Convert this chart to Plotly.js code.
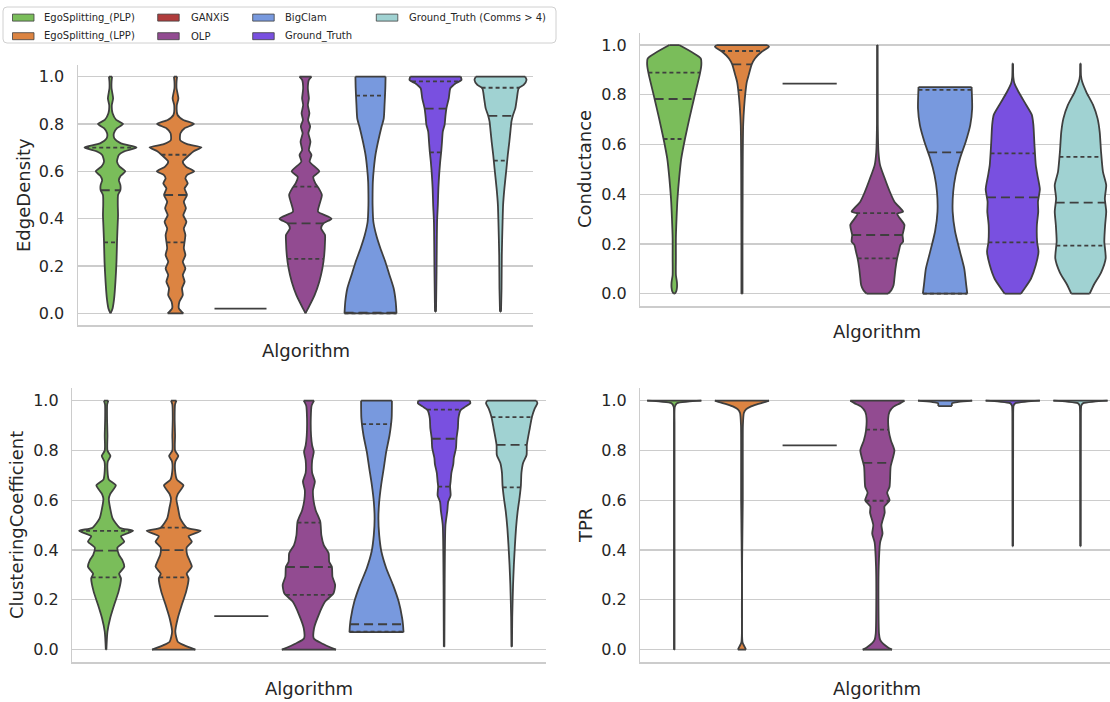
<!DOCTYPE html>
<html><head><meta charset="utf-8">
<script src="https://cdn.plot.ly/plotly-3.0.1.min.js"></script>
<style>html,body{margin:0;padding:0;background:#fff}#chart{width:1110px;height:702px}</style>
</head><body><div id="chart"></div>
<script>
// ---------------- DATA ----------------
const algorithms = ["EgoSplitting_(PLP)", "EgoSplitting_(LPP)", "GANXiS", "OLP", "BigClam", "Ground_Truth", "Ground_Truth (Comms > 4)"];
const metrics = ["EdgeDensity", "Conductance", "ClusteringCoefficient", "TPR"];
const xAxisLabel = "Algorithm";
const yTickValues = [0, 0.2, 0.4, 0.6, 0.8, 1.0];
const yTickLabels = ["0.0", "0.2", "0.4", "0.6", "0.8", "1.0"];

// GANXiS: a single value per metric
const ganxisValues = [0.02, 0.845, 0.135, 0.82];

// density profiles: [value, relative density width (1 = widest)]
const edPLP = [[0,0],[0.021,0.08],[0.063,0.14],[0.134,0.19],[0.218,0.23],[0.303,0.25],[0.387,0.28],[0.415,0.29],[0.458,0.28],[0.5,0.29],[0.521,0.38],[0.542,0.38],[0.563,0.32],[0.582,0.4],[0.6,0.57],[0.62,0.35],[0.641,0.25],[0.669,0.32],[0.683,0.5],[0.701,1.0],[0.718,0.4],[0.739,0.15],[0.761,0.13],[0.782,0.25],[0.8,0.48],[0.817,0.22],[0.845,0.08],[0.88,0.05],[0.908,0.1],[0.951,0.04],[0.979,0.04],[1.0,0.06]];
const edLPP = [[0,0.3],[0.021,0.13],[0.049,0.15],[0.077,0.28],[0.106,0.25],[0.134,0.35],[0.162,0.28],[0.19,0.38],[0.218,0.28],[0.246,0.38],[0.275,0.32],[0.303,0.35],[0.331,0.38],[0.359,0.32],[0.387,0.42],[0.415,0.3],[0.444,0.4],[0.472,0.32],[0.5,0.44],[0.528,0.35],[0.549,0.47],[0.57,0.38],[0.585,0.45],[0.6,0.72],[0.62,0.4],[0.641,0.28],[0.669,0.53],[0.685,0.7],[0.701,1.0],[0.715,0.45],[0.732,0.18],[0.761,0.19],[0.782,0.35],[0.8,0.71],[0.817,0.3],[0.838,0.08],[0.88,0.05],[0.908,0.11],[0.951,0.04],[0.979,0.04],[1.0,0.06]];
const edOLP = [[0,0],[0.021,0.1],[0.077,0.35],[0.134,0.53],[0.19,0.65],[0.246,0.72],[0.303,0.75],[0.331,0.75],[0.359,0.6],[0.38,0.69],[0.4,1.0],[0.43,0.48],[0.458,0.53],[0.5,0.63],[0.53,0.5],[0.549,0.38],[0.577,0.3],[0.6,0.53],[0.641,0.16],[0.669,0.23],[0.69,0.13],[0.725,0.19],[0.761,0.11],[0.789,0.18],[0.817,0.1],[0.845,0.15],[0.88,0.09],[0.908,0.13],[0.951,0.09],[0.986,0.13],[1.0,0.23]];
const edBigClam = [[0,1.0],[0.049,0.97],[0.106,0.89],[0.162,0.73],[0.218,0.57],[0.275,0.38],[0.331,0.22],[0.387,0.11],[0.458,0.08],[0.5,0.08],[0.556,0.09],[0.613,0.13],[0.669,0.19],[0.725,0.29],[0.782,0.41],[0.824,0.51],[0.88,0.54],[0.951,0.57],[1.0,0.58]];
const edGT = [[0.007,0.02],[0.176,0.04],[0.303,0.05],[0.387,0.06],[0.458,0.09],[0.528,0.11],[0.585,0.14],[0.641,0.18],[0.683,0.22],[0.725,0.25],[0.768,0.28],[0.796,0.35],[0.831,0.38],[0.866,0.42],[0.908,0.51],[0.951,0.57],[0.965,0.7],[0.972,0.78],[0.986,1.0],[1.0,0.97]];
const edGT4 = [[0.007,0.02],[0.106,0.04],[0.246,0.05],[0.387,0.08],[0.458,0.1],[0.528,0.15],[0.613,0.23],[0.669,0.28],[0.725,0.34],[0.768,0.38],[0.81,0.42],[0.834,0.47],[0.866,0.57],[0.908,0.63],[0.951,0.7],[0.965,0.89],[0.986,1.0],[1.0,0.95]];

const condPLP = [[0,0.02],[0.008,0.07],[0.024,0.1],[0.045,0.1],[0.075,0.06],[0.142,0.06],[0.224,0.06],[0.303,0.085],[0.383,0.12],[0.464,0.18],[0.544,0.26],[0.625,0.4],[0.705,0.56],[0.785,0.73],[0.886,0.95],[0.92,1.0],[0.946,0.98],[1.0,0.18]];
const condLPP = [[0,0.02],[0.2,0.02],[0.4,0.025],[0.55,0.03],[0.68,0.045],[0.75,0.08],[0.812,0.13],[0.852,0.18],[0.88,0.25],[0.922,0.36],[0.946,0.48],[0.973,0.73],[0.993,1.0],[1.0,0.93]];
const condOLP = [[0,0.4],[0.015,0.52],[0.035,0.6],[0.062,0.63],[0.102,0.67],[0.142,0.73],[0.169,0.79],[0.196,0.85],[0.209,0.95],[0.236,0.93],[0.276,1.0],[0.303,0.83],[0.322,0.73],[0.33,0.95],[0.34,0.88],[0.37,0.63],[0.41,0.46],[0.464,0.27],[0.517,0.1],[0.57,0.04],[0.68,0.015],[1.0,0.01]];
const condBigClam = [[0,0.82],[0.035,0.78],[0.1,0.71],[0.169,0.55],[0.25,0.37],[0.33,0.28],[0.41,0.3],[0.477,0.39],[0.544,0.55],[0.61,0.76],[0.678,0.93],[0.745,1.0],[0.831,0.98]];
const condGT = [[0,0.3],[0.02,0.43],[0.06,0.67],[0.115,0.85],[0.17,0.95],[0.206,0.9],[0.276,0.89],[0.33,0.94],[0.37,0.93],[0.42,1.0],[0.477,0.91],[0.517,0.85],[0.6,0.8],[0.68,0.76],[0.72,0.7],[0.76,0.49],[0.81,0.22],[0.846,0.06],[0.87,0.02],[0.926,0.01]];
const condGT4 = [[0,0.34],[0.035,0.49],[0.085,0.76],[0.142,0.93],[0.21,0.88],[0.276,0.91],[0.33,0.95],[0.383,0.9],[0.437,0.95],[0.49,0.83],[0.57,0.76],[0.65,0.71],[0.705,0.63],[0.76,0.46],[0.81,0.22],[0.853,0.06],[0.875,0.02],[0.926,0.01]];

const ccPLP = [[0,0.01],[0.072,0.05],[0.126,0.15],[0.18,0.3],[0.233,0.46],[0.286,0.55],[0.305,0.48],[0.333,0.67],[0.36,0.6],[0.38,0.48],[0.41,0.42],[0.434,0.67],[0.455,0.55],[0.477,1.0],[0.49,0.5],[0.527,0.24],[0.568,0.15],[0.605,0.1],[0.625,0.15],[0.66,0.36],[0.683,0.1],[0.72,0.05],[0.755,0.06],[0.778,0.16],[0.8,0.05],[0.86,0.05],[0.93,0.035],[0.985,0.04],[1.0,0.08]];
const ccLPP = [[0,0.8],[0.019,0.36],[0.032,0.15],[0.072,0.06],[0.126,0.15],[0.18,0.3],[0.233,0.46],[0.286,0.55],[0.305,0.48],[0.333,0.67],[0.36,0.58],[0.38,0.5],[0.41,0.48],[0.434,0.67],[0.455,0.55],[0.477,1.0],[0.49,0.48],[0.527,0.24],[0.568,0.16],[0.605,0.1],[0.625,0.15],[0.66,0.36],[0.683,0.12],[0.72,0.05],[0.755,0.06],[0.778,0.17],[0.8,0.05],[0.86,0.05],[0.93,0.035],[0.985,0.05],[1.0,0.1]];
const ccOLP = [[0,1.0],[0.025,0.48],[0.045,0.18],[0.086,0.19],[0.139,0.36],[0.193,0.6],[0.226,0.91],[0.26,0.97],[0.293,0.87],[0.333,0.85],[0.353,0.75],[0.387,0.73],[0.42,0.55],[0.46,0.46],[0.514,0.42],[0.56,0.25],[0.6,0.17],[0.64,0.15],[0.675,0.22],[0.71,0.12],[0.76,0.12],[0.795,0.18],[0.82,0.12],[0.86,0.08],[0.93,0.07],[0.98,0.1],[1.0,0.19]];
const ccBigClam = [[0.07,1.0],[0.1,0.98],[0.126,0.95],[0.193,0.82],[0.26,0.61],[0.327,0.36],[0.394,0.18],[0.46,0.1],[0.527,0.07],[0.594,0.1],[0.66,0.17],[0.73,0.27],[0.795,0.36],[0.86,0.48],[0.93,0.56],[1.0,0.57]];
const ccGT = [[0.012,0.01],[0.26,0.02],[0.5,0.05],[0.558,0.12],[0.594,0.15],[0.62,0.24],[0.655,0.22],[0.675,0.24],[0.71,0.27],[0.745,0.34],[0.77,0.36],[0.81,0.44],[0.85,0.46],[0.89,0.51],[0.93,0.53],[0.962,0.61],[0.976,0.79],[0.99,0.97],[1.0,0.95]];
const ccGT4 = [[0.012,0.01],[0.13,0.02],[0.26,0.05],[0.34,0.08],[0.42,0.12],[0.488,0.16],[0.555,0.22],[0.61,0.29],[0.66,0.34],[0.71,0.36],[0.75,0.42],[0.782,0.55],[0.822,0.56],[0.89,0.67],[0.935,0.75],[0.968,0.85],[0.99,0.95],[1.0,0.91]];

const tprPLP = [[0,0.01],[0.9,0.01],[0.975,0.02],[0.99,0.1],[0.996,0.5],[1.0,1.0]];
const tprLPP = [[0,0.15],[0.015,0.08],[0.03,0.02],[0.5,0.02],[0.6,0.03],[0.8,0.03],[0.9,0.035],[0.95,0.07],[0.965,0.15],[0.975,0.3],[0.985,0.55],[0.993,0.8],[1.0,1.0]];
const tprOLP = [[0,0.54],[0.01,0.38],[0.025,0.2],[0.04,0.1],[0.064,0.06],[0.2,0.04],[0.335,0.05],[0.43,0.1],[0.466,0.19],[0.5,0.15],[0.55,0.27],[0.575,0.26],[0.6,0.45],[0.63,0.36],[0.654,0.45],[0.735,0.49],[0.8,0.63],[0.84,0.5],[0.88,0.42],[0.93,0.4],[0.956,0.45],[0.976,0.6],[0.99,0.85],[1.0,1.0]];
const tprBigClam = [[0.978,0.25],[0.99,0.26],[0.995,0.5],[1.0,1.0]];
const tprGT = [[0.415,0.01],[0.95,0.015],[0.98,0.03],[0.99,0.1],[0.996,0.5],[1.0,1.0]];
const tprGT4 = [[0.415,0.01],[0.95,0.015],[0.98,0.03],[0.99,0.1],[0.996,0.5],[1.0,1.0]];

// quartiles [Q1, median, Q3] per algorithm (null = not drawn)
const edQuartiles = [[0.30,0.52,0.70],[0.30,0.50,0.67],null,[0.23,0.38,0.535],[0.0,0.003,0.92],[0.68,0.865,0.98],[0.645,0.834,0.953]];
const condQuartiles = [[0.622,0.783,0.889],[0.819,0.922,0.976],null,[0.142,0.236,0.324],[0.0,0.568,0.82],[0.206,0.387,0.564],[0.193,0.366,0.55]];
const ccQuartiles = [[0.29,0.398,0.477],[0.29,0.40,0.49],null,[0.22,0.332,0.51],[0.072,0.102,0.906],[0.655,0.847,0.964],[0.652,0.822,0.934]];
const tprQuartiles = [null,null,null,[0.598,0.75,0.884],null,null,null];

// ---------------- STYLE / BUILD ----------------
const palette = ["#7abd5a", "#dc8442", "#b03c3c", "#924b91", "#7899de", "#7950e0", "#a0d2d2"];
const edgeColor = "#3f3f3f";
const HALF = 0.4;
const LW = 1.8;

const profiles = [
  [edPLP, edLPP, null, edOLP, edBigClam, edGT, edGT4],
  [condPLP, condLPP, null, condOLP, condBigClam, condGT, condGT4],
  [ccPLP, ccLPP, null, ccOLP, ccBigClam, ccGT, ccGT4],
  [tprPLP, tprLPP, null, tprOLP, tprBigClam, tprGT, tprGT4]
];
const quartiles = [edQuartiles, condQuartiles, ccQuartiles, tprQuartiles];
const axisIds = [["x","y"],["x2","y2"],["x3","y3"],["x4","y4"]];

function widthAt(prof, v) {
  if (v <= prof[0][0]) return prof[0][1];
  for (let i = 1; i < prof.length; i++) {
    if (v <= prof[i][0]) {
      const a = prof[i-1], b = prof[i];
      const t = (v - a[0]) / (b[0] - a[0]);
      return a[1] + t * (b[1] - a[1]);
    }
  }
  return prof[prof.length-1][1];
}

const traces = [];
const sideLine = {color:edgeColor, width:LW, shape:"spline", smoothing:0.6};
for (let m = 0; m < metrics.length; m++) {
  const [xa, ya] = axisIds[m];
  const endX = [], endY = [];
  for (let a = 0; a < algorithms.length; a++) {
    const prof = profiles[m][a];
    if (!prof) {
      endX.push(a-HALF, a+HALF, null); endY.push(ganxisValues[m], ganxisValues[m], null);
      continue;
    }
    const ys = prof.map(p => p[0]);
    traces.push({type:"scatter", mode:"lines", xaxis:xa, yaxis:ya,
      x: prof.map(p => a - HALF*p[1]), y: ys, line: sideLine, hoverinfo:"skip", showlegend:false});
    traces.push({type:"scatter", mode:"lines", xaxis:xa, yaxis:ya,
      x: prof.map(p => a + HALF*p[1]), y: ys, line: sideLine, fill:"tonextx", fillcolor:palette[a],
      hoverinfo:"skip", showlegend:false});
    const lo = prof[0], hi = prof[prof.length-1];
    if (lo[1] > 0) { endX.push(a-HALF*lo[1], a+HALF*lo[1], null); endY.push(lo[0], lo[0], null); }
    if (hi[1] > 0) { endX.push(a-HALF*hi[1], a+HALF*hi[1], null); endY.push(hi[0], hi[0], null); }
  }
  traces.push({type:"scatter", mode:"lines", xaxis:xa, yaxis:ya, x:endX, y:endY,
    line:{color:edgeColor, width:LW}, hoverinfo:"skip", showlegend:false, connectgaps:false});
  const qx = [], qy = [], mx = [], my = [];
  for (let a = 0; a < algorithms.length; a++) {
    const q = quartiles[m][a];
    if (!q) continue;
    const prof = profiles[m][a];
    q.forEach((v, k) => {
      const w = HALF * widthAt(prof, v);
      const X = (k === 1) ? mx : qx, Y = (k === 1) ? my : qy;
      X.push(a - w, a + w, null); Y.push(v, v, null);
    });
  }
  traces.push({type:"scatter", mode:"lines", xaxis:xa, yaxis:ya, x:qx, y:qy,
    line:{color:edgeColor, width:1.8, dash:"4px,3px"}, hoverinfo:"skip", showlegend:false, connectgaps:false});
  traces.push({type:"scatter", mode:"lines", xaxis:xa, yaxis:ya, x:mx, y:my,
    line:{color:edgeColor, width:1.8, dash:"9px,5px"}, hoverinfo:"skip", showlegend:false, connectgaps:false});
}

const W = 1110, H = 702;
const px = v => v / W, py = v => 1 - v / H;

function xAxis(domain, range, anchor) {
  return {domain, range, anchor, showgrid:false, zeroline:false, showticklabels:false, ticks:"",
    showline:true, linecolor:"#cccccc", linewidth:1.5, fixedrange:true};
}
function yAxis(domain, anchor) {
  return {domain, anchor, range:[-0.05, 1.05], tickvals:yTickValues, ticktext:yTickLabels,
    showgrid:true, gridcolor:"#cccccc", gridwidth:1.2, zeroline:false,
    showline:true, linecolor:"#cccccc", linewidth:1.5, ticks:"", ticklabelstandoff:9,
    tickfont:{size:16, color:"#262626"}, fixedrange:true};
}

const annotations = [];
const titleFont = {size:18, color:"#262626", family:"DejaVu Sans"};
[[306, 350],[877, 331],[309, 688],[877, 688]].forEach(([x, y]) => {
  annotations.push({xref:"paper", yref:"paper", x:px(x), y:py(y), text:xAxisLabel,
    showarrow:false, xanchor:"center", yanchor:"middle", font:titleFont});
});
[[23, 195],[585, 169],[16, 525],[585, 525]].forEach(([x, y], i) => {
  annotations.push({xref:"paper", yref:"paper", x:px(x), y:py(y), text:metrics[i], textangle:-90,
    showarrow:false, xanchor:"center", yanchor:"middle", font:titleFont});
});

// manual legend (column-major, 4 columns x 2 rows) with a rounded frame
function roundRect(x0, y0, x1, y1, r) {
  const X = v => px(v), Y = v => py(v);
  return `M ${X(x0+r)},${Y(y0)} L ${X(x1-r)},${Y(y0)} Q ${X(x1)},${Y(y0)} ${X(x1)},${Y(y0+r)} ` +
    `L ${X(x1)},${Y(y1-r)} Q ${X(x1)},${Y(y1)} ${X(x1-r)},${Y(y1)} L ${X(x0+r)},${Y(y1)} ` +
    `Q ${X(x0)},${Y(y1)} ${X(x0)},${Y(y1-r)} L ${X(x0)},${Y(y0+r)} Q ${X(x0)},${Y(y0)} ${X(x0+r)},${Y(y0)} Z`;
}
const shapes = [{type:"path", xref:"paper", yref:"paper", path: roundRect(3, 7, 556, 43, 4),
  line:{color:"#d0d0d0", width:1}, fillcolor:"#ffffff", layer:"above"}];
const colPatch = [12.5, 157.7, 252.7, 376.3], colText = [42, 189, 283, 407], rowY = [17.6, 36.2];
algorithms.forEach((name, i) => {
  const c = Math.floor(i / 2), r = i % 2;
  shapes.push({type:"rect", xref:"paper", yref:"paper", x0:px(colPatch[c]), x1:px(colPatch[c] + 21.5),
    y0:py(rowY[r] + 3.5), y1:py(rowY[r] - 3.5), line:{color:"#3f3f3f", width:0.8}, fillcolor:palette[i], layer:"above"});
  annotations.push({xref:"paper", yref:"paper", x:px(colText[c]), y:py(rowY[r]), text:name, showarrow:false,
    xanchor:"left", yanchor:"middle", font:{size:10, color:"#262626", family:"DejaVu Sans"}});
});

const layout = {
  width:W, height:H, margin:{l:0, r:0, t:0, b:0}, paper_bgcolor:"#ffffff", plot_bgcolor:"#ffffff",
  font:{family:"DejaVu Sans", color:"#262626"}, showlegend:false,
  xaxis: xAxis([px(78), px(533)], [-0.5, 6.5], "y"),
  yaxis: yAxis([py(325.2), py(64.8)], "x"),
  xaxis2: xAxis([px(640.4), 1], [-0.5, 6.436], "y2"),
  yaxis2: yAxis([py(306.1), py(32.6)], "x2"),
  xaxis3: xAxis([px(72.3), px(545.5)], [-0.5, 6.5], "y3"),
  yaxis3: yAxis([py(662.1), py(388.2)], "x3"),
  xaxis4: xAxis([px(640.4), 1], [-0.5, 6.436], "y4"),
  yaxis4: yAxis([py(662.1), py(388.2)], "x4"),
  annotations, shapes
};

Plotly.newPlot("chart", traces, layout, {staticPlot:true, displayModeBar:false});
</script>
</body></html>
